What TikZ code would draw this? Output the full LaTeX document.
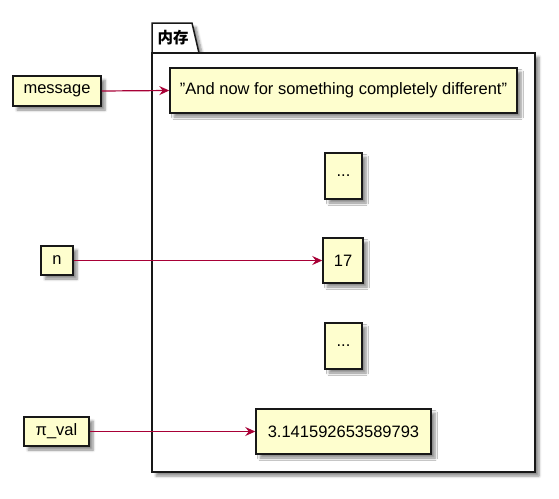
\documentclass[tikz,border=0pt]{standalone}
\usepackage{fontspec}
\setmainfont{Liberation Sans}[Ligatures=NoCommon]
\newfontfamily\cjk{Noto Sans CJK SC}
\usetikzlibrary{arrows.meta,shadows.blur}
\definecolor{boxfill}{HTML}{FEFECE}
\definecolor{arrowc}{HTML}{A80036}
\definecolor{edgec}{HTML}{181818}
\begin{document}
\begin{tikzpicture}[x=1pt,y=-1pt,
  val/.style={draw=edgec,fill=boxfill,line width=1.5pt,rectangle,inner sep=0pt,
    font=\fontsize{16.5}{19}\selectfont,
    blur shadow={shadow xshift=4pt,shadow yshift=-4pt,shadow blur steps=6,shadow opacity=45,shadow blur radius=2.5pt}},
  link/.style={draw=arrowc,line width=1.2pt,-{Stealth[length=10pt,width=9pt,inset=3.5pt]}}]
\useasboundingbox (0,0) rectangle (559,498);
% package
\path[fill=white,blur shadow={shadow xshift=4pt,shadow yshift=-4pt,shadow blur steps=6,shadow opacity=45,shadow blur radius=2.5pt}]
  (152,53) -- (152,23) -- (192,23) -- (199,53) -- (535,53) -- (535,472) -- (152,472) -- cycle;
\draw[line width=1.5pt,edgec] (152,53) -- (152,23) -- (192,23) -- (199,53);
\node[draw=edgec,line width=1.5pt,rectangle,minimum width=383pt,minimum height=419pt,inner sep=0pt] (pkg) at (343.5,262.5) {};
\node[font=\cjk\bfseries\fontsize{15.5}{18}\selectfont,anchor=west] (pkglbl) at (154,38) {内存};
% values
\node[val,minimum width=347pt,minimum height=45pt] (str) at (343.5,90.5) {\char34 And now for something completely different\char34};
\node[val,minimum width=37pt,minimum height=46pt] (dotsa) at (343.5,176) {...};
\node[val,minimum width=40pt,minimum height=45pt] (v17) at (343,260.5) {17};
\node[val,minimum width=37pt,minimum height=46pt] (dotsb) at (343.5,346) {...};
\node[val,minimum width=175pt,minimum height=45pt] (vpi) at (343.5,431.5) {3.141592653589793};
% names
\node[val,minimum width=88pt,minimum height=30pt] (msg) at (57,91) {message};
\node[val,minimum width=32pt,minimum height=29pt] (n) at (57,260.5) {n};
\node[val,minimum width=65pt,minimum height=29pt] (piv) at (56.5,431.5) {π\_val};
% links
\draw[link] (msg.east) -- (str.west);
\draw[link] (n.east) -- (v17.west);
\draw[link] (piv.east) -- (vpi.west);
\end{tikzpicture}
\end{document}
